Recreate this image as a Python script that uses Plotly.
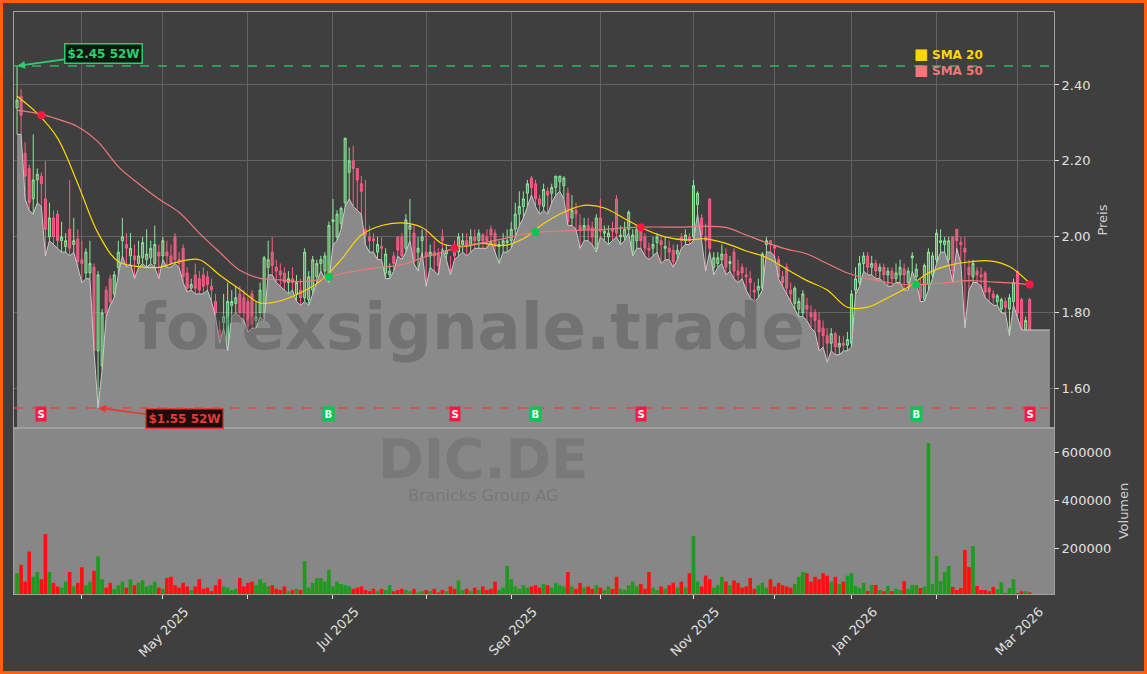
import pandas as pd
import plotly.graph_objects as go

# ---- data ----
holidays = ["2025-04-18", "2025-04-21", "2025-05-01", "2025-12-24",
            "2025-12-25", "2025-12-26", "2025-12-31", "2026-01-01"]
dates = [d for d in pd.bdate_range("2025-03-10", "2026-03-05")
         if d.strftime("%Y-%m-%d") not in holidays]

opens = [2.34, 2.37, 2.22, 2.18, 2.10, 2.15, 2.16, 2.10, 2.00, 2.05,
         2.06, 1.99, 1.975, 2.02, 1.98, 1.995, 1.94, 1.905, 1.905, 1.92,
         1.70, 1.66, 1.86, 1.89, 1.85, 1.92, 1.99, 1.98, 1.95, 1.95,
         1.93, 1.945, 1.94, 1.945, 1.93, 1.96, 1.95, 1.96, 1.95, 2.00,
         1.94, 1.97, 1.905, 1.865, 1.90, 1.89, 1.90, 1.895, 1.87, 1.83,
         1.755, 1.775, 1.70, 1.82, 1.825, 1.85, 1.84, 1.83, 1.85, 1.78,
         1.80, 1.79, 1.92, 1.96, 1.92, 1.91, 1.905, 1.88, 1.89, 1.85,
         1.86, 1.84, 1.835, 1.86, 1.895, 1.93, 1.91, 1.895, 2.04, 2.00,
         2.035, 2.09, 2.17, 2.20, 2.18, 2.14, 2.02, 2.00, 1.995, 1.96,
         1.975, 1.905, 1.90, 1.95, 2.00, 2.00, 1.97, 2.02, 2.01, 1.96,
         1.99, 1.96, 1.95, 1.96, 1.955, 2.00, 1.955, 1.915, 1.97, 1.96,
         1.98, 1.99, 1.98, 2.00, 1.99, 2.005, 2.00, 2.02, 2.01, 1.975,
         1.98, 1.985, 1.99, 2.02, 2.06, 2.08, 2.115, 2.155, 2.14, 2.10,
         2.08, 2.12, 2.115, 2.13, 2.145, 2.135, 2.115, 2.05, 2.07, 2.03,
         2.02, 2.03, 2.025, 1.97, 2.05, 2.01, 2.00, 2.02, 2.10, 2.00,
         2.00, 2.02, 1.96, 1.99, 2.02, 2.00, 1.97, 1.97, 1.985, 1.99,
         1.97, 1.97, 1.965, 1.955, 2.00, 1.99, 2.00, 2.00, 2.085, 2.05,
         2.00, 2.10, 1.92, 1.93, 1.94, 1.955, 1.93, 1.96, 1.91, 1.92,
         1.90, 1.89, 1.86, 1.86, 1.865, 1.98, 1.99, 1.975, 1.94, 1.895,
         1.92, 1.86, 1.825, 1.81, 1.80, 1.82, 1.80, 1.80, 1.78, 1.76,
         1.74, 1.72, 1.745, 1.71, 1.72, 1.715, 1.72, 1.86, 1.88, 1.93,
         1.95, 1.92, 1.93, 1.91, 1.92, 1.90, 1.91, 1.89, 1.90, 1.915,
         1.88, 1.945, 1.895, 1.875, 1.835, 1.875, 1.90, 1.94, 1.985, 1.98,
         1.94, 2.00, 2.02, 1.985, 1.97, 1.92, 1.895, 1.91, 1.90, 1.905,
         1.865, 1.85, 1.83, 1.81, 1.83, 1.81, 1.83, 1.91, 1.835, 1.755,
         1.835]

highs = [2.45, 2.39, 2.25, 2.19, 2.27, 2.18, 2.17, 2.20, 2.09, 2.07,
         2.07, 2.04, 2.01, 2.15, 2.05, 2.02, 1.99, 1.97, 1.99, 1.93,
         1.91, 1.81, 1.87, 1.90, 1.91, 1.99, 2.05, 2.01, 2.01, 1.98,
         1.99, 2.00, 2.02, 1.99, 2.03, 1.98, 2.00, 1.99, 1.98, 2.01,
         1.96, 1.98, 1.92, 1.89, 1.93, 1.91, 1.92, 1.91, 1.89, 1.85,
         1.78, 1.85, 1.88, 1.86, 1.87, 1.87, 1.86, 1.84, 1.86, 1.83,
         1.88, 1.95, 1.99, 2.00, 1.94, 1.93, 1.92, 1.91, 1.92, 1.90,
         1.89, 1.97, 1.91, 1.95, 1.94, 1.95, 1.96, 2.04, 2.10, 2.07,
         2.08, 2.26, 2.235, 2.24, 2.18, 2.16, 2.15, 2.03, 2.01, 2.00,
         2.00, 1.97, 1.93, 1.96, 2.00, 2.01, 2.06, 2.10, 2.03, 2.00,
         2.02, 2.02, 1.98, 1.99, 1.97, 2.02, 1.98, 1.95, 1.99, 2.01,
         2.01, 2.01, 2.02, 2.02, 2.02, 2.01, 2.02, 2.03, 2.02, 1.99,
         2.01, 2.02, 2.04, 2.09, 2.12, 2.12, 2.15, 2.16, 2.15, 2.11,
         2.14, 2.13, 2.14, 2.16, 2.16, 2.16, 2.13, 2.11, 2.09, 2.06,
         2.05, 2.05, 2.04, 2.06, 2.10, 2.03, 2.03, 2.04, 2.11, 2.03,
         2.04, 2.07, 2.02, 2.03, 2.03, 2.01, 1.985, 2.00, 2.01, 2.00,
         2.00, 1.99, 1.98, 1.98, 2.01, 2.02, 2.01, 2.15, 2.12, 2.06,
         2.035, 2.10, 1.96, 1.96, 1.98, 1.97, 1.95, 1.97, 1.94, 1.93,
         1.92, 1.91, 1.88, 1.89, 1.96, 2.00, 1.99, 1.98, 1.95, 1.91,
         1.93, 1.88, 1.87, 1.84, 1.86, 1.84, 1.82, 1.81, 1.80, 1.78,
         1.76, 1.76, 1.75, 1.74, 1.74, 1.75, 1.86, 1.92, 1.95, 1.96,
         1.96, 1.95, 1.94, 1.93, 1.93, 1.92, 1.92, 1.93, 1.94, 1.93,
         1.92, 1.96, 1.93, 1.89, 1.93, 1.97, 1.96, 2.02, 2.02, 2.00,
         2.00, 2.00, 2.02, 2.00, 2.00, 1.94, 1.94, 1.92, 1.92, 1.91,
         1.87, 1.86, 1.85, 1.84, 1.84, 1.85, 1.89, 1.91, 1.84, 1.79,
         1.84]

lows = [2.27, 2.27, 2.10, 2.07, 2.06, 2.09, 2.08, 1.95, 1.99, 1.98,
        1.97, 1.96, 1.96, 1.95, 1.96, 1.92, 1.88, 1.89, 1.89, 1.70,
        1.55, 1.65, 1.79, 1.82, 1.84, 1.90, 1.95, 1.92, 1.93, 1.89,
        1.92, 1.93, 1.92, 1.93, 1.92, 1.89, 1.94, 1.92, 1.92, 1.93,
        1.92, 1.88, 1.855, 1.86, 1.85, 1.85, 1.85, 1.86, 1.83, 1.79,
        1.72, 1.76, 1.70, 1.79, 1.80, 1.79, 1.78, 1.75, 1.76, 1.76,
        1.79, 1.78, 1.90, 1.90, 1.88, 1.87, 1.86, 1.85, 1.86, 1.83,
        1.82, 1.83, 1.82, 1.85, 1.88, 1.91, 1.89, 1.88, 1.98, 1.99,
        2.02, 2.08, 2.10, 2.08, 2.07, 2.06, 1.98, 1.96, 1.96, 1.94,
        1.94, 1.89, 1.89, 1.91, 1.95, 1.94, 1.96, 1.99, 1.93, 1.91,
        1.96, 1.87, 1.92, 1.91, 1.90, 1.97, 1.94, 1.90, 1.94, 1.95,
        1.96, 1.95, 1.96, 1.97, 1.97, 1.97, 1.97, 1.99, 1.96, 1.93,
        1.96, 1.96, 1.97, 2.00, 2.03, 2.05, 2.08, 2.11, 2.08, 2.06,
        2.07, 2.06, 2.09, 2.11, 2.12, 2.10, 2.03, 2.03, 2.02, 1.97,
        1.99, 1.99, 1.98, 1.96, 2.00, 1.99, 1.98, 1.99, 2.00, 1.98,
        1.99, 2.01, 1.95, 1.97, 1.97, 1.95, 1.94, 1.95, 1.96, 1.93,
        1.94, 1.94, 1.92, 1.94, 1.97, 1.98, 1.98, 1.99, 2.06, 1.99,
        1.91, 1.96, 1.90, 1.92, 1.93, 1.90, 1.91, 1.89, 1.88, 1.89,
        1.86, 1.84, 1.83, 1.84, 1.86, 1.96, 1.96, 1.95, 1.89, 1.87,
        1.85, 1.83, 1.81, 1.79, 1.79, 1.78, 1.76, 1.75, 1.70, 1.71,
        1.67, 1.70, 1.69, 1.69, 1.70, 1.70, 1.71, 1.85, 1.87, 1.91,
        1.90, 1.90, 1.89, 1.89, 1.88, 1.87, 1.87, 1.88, 1.88, 1.86,
        1.86, 1.91, 1.88, 1.83, 1.83, 1.86, 1.89, 1.93, 1.96, 1.96,
        1.93, 1.88, 1.97, 1.93, 1.76, 1.86, 1.88, 1.88, 1.87, 1.84,
        1.83, 1.82, 1.82, 1.80, 1.80, 1.74, 1.82, 1.79, 1.755, 1.755,
        1.755]

closes = [2.36, 2.32, 2.16, 2.09, 2.15, 2.165, 2.14, 2.02, 2.05, 2.00,
          1.99, 2.00, 1.99, 1.97, 1.99, 1.935, 1.93, 1.96, 1.93, 1.70,
          1.90, 1.80, 1.80, 1.83, 1.90, 1.96, 2.00, 1.97, 1.97, 1.94,
          1.95, 1.985, 1.955, 1.97, 1.98, 1.95, 1.99, 1.95, 1.93, 1.94,
          1.93, 1.895, 1.865, 1.875, 1.865, 1.86, 1.87, 1.875, 1.86, 1.80,
          1.735, 1.79, 1.83, 1.83, 1.84, 1.80, 1.80, 1.765, 1.77, 1.79,
          1.86, 1.945, 1.94, 1.925, 1.91, 1.90, 1.88, 1.89, 1.88, 1.88,
          1.84, 1.96, 1.895, 1.94, 1.93, 1.94, 1.95, 2.03, 2.045, 2.06,
          2.075, 2.26, 2.20, 2.18, 2.15, 2.12, 2.005, 1.99, 1.99, 1.98,
          1.97, 1.955, 1.91, 1.93, 1.965, 1.95, 2.045, 2.03, 1.935, 1.97,
          2.00, 1.95, 1.96, 1.95, 1.925, 1.99, 1.965, 1.91, 1.95, 2.00,
          1.99, 1.98, 2.00, 1.99, 2.01, 1.99, 1.99, 2.005, 1.975, 1.98,
          1.99, 1.99, 2.02, 2.06, 2.08, 2.10, 2.14, 2.13, 2.10, 2.085,
          2.125, 2.11, 2.13, 2.16, 2.16, 2.155, 2.04, 2.07, 2.06, 2.02,
          2.03, 2.02, 2.00, 2.05, 2.015, 2.015, 2.01, 2.015, 2.01, 2.005,
          2.02, 2.065, 2.005, 2.02, 1.99, 1.97, 1.965, 1.98, 2.00, 1.98,
          1.975, 1.96, 1.935, 1.965, 1.99, 2.005, 1.99, 2.135, 2.115, 2.005,
          1.99, 1.97, 1.945, 1.945, 1.955, 1.92, 1.935, 1.91, 1.90, 1.905,
          1.895, 1.88, 1.855, 1.87, 1.955, 1.99, 1.98, 1.97, 1.895, 1.88,
          1.865, 1.85, 1.865, 1.83, 1.85, 1.81, 1.79, 1.78, 1.75, 1.74,
          1.72, 1.745, 1.71, 1.72, 1.715, 1.73, 1.85, 1.89, 1.93, 1.95,
          1.92, 1.93, 1.91, 1.92, 1.90, 1.91, 1.89, 1.905, 1.92, 1.90,
          1.91, 1.95, 1.915, 1.84, 1.925, 1.96, 1.95, 2.01, 1.99, 1.99,
          1.99, 1.91, 1.99, 1.98, 1.96, 1.90, 1.93, 1.90, 1.895, 1.855,
          1.855, 1.84, 1.845, 1.835, 1.815, 1.84, 1.88, 1.80, 1.755, 1.78,
          1.755]

volumes = [95, 130, 60, 185, 80, 100, 70, 258, 100, 55,
           40, 35, 60, 100, 40, 55, 120, 45, 60, 105,
           165, 70, 35, 55, 30, 45, 60, 35, 70, 45,
           55, 65, 40, 45, 60, 35, 30, 75, 80, 45,
           35, 55, 40, 25, 40, 70, 30, 35, 20, 45,
           70, 40, 35, 25, 30, 75, 40, 55, 60, 45,
           70, 55, 40, 45, 30, 25, 40, 20, 25, 30,
           25, 145, 35, 55, 75, 75, 60, 110, 40, 60,
           50, 45, 40, 30, 35, 40, 25, 20, 30, 20,
           30, 25, 45, 20, 25, 30, 25, 20, 30, 15,
           20, 25, 20, 30, 15, 25, 20, 40, 30, 65,
           25, 30, 20, 35, 25, 40, 25, 30, 60, 25,
           35, 125, 70, 40, 30, 45, 35, 40, 45, 35,
           50, 45, 35, 55, 45, 40, 100, 40, 30, 55,
           35, 40, 30, 45, 35, 25, 40, 30, 80, 30,
           25, 45, 60, 40, 50, 30, 100, 35, 25, 40,
           30, 45, 55, 35, 60, 35, 95, 250, 60, 40,
           85, 70, 35, 45, 80, 60, 45, 65, 55, 35,
           40, 75, 30, 45, 55, 35, 70, 40, 55, 45,
           40, 35, 50, 80, 100, 95, 60, 80, 70, 95,
           85, 60, 80, 50, 60, 85, 95, 42, 33, 54,
           21, 46, 46, 25, 20, 42, 20, 30, 25, 62,
           30, 46, 46, 33, 38, 637, 50, 167, 62, 100,
           125, 38, 25, 33, 192, 121, 208, 42, 25, 25,
           20, 38, 28, 58, 12, 33, 70, 12, 20, 20,
           15]
volumes = [v * 1000 for v in volumes]

# moving averages, read every 5 trading days
sma_idx = list(range(0, 251, 5))
sma20 = [2.37, 2.325, 2.26, 2.14, 2.01, 1.935, 1.922, 1.92, 1.935, 1.94,
         1.90, 1.862, 1.826, 1.832, 1.853, 1.885, 1.94, 2.005, 2.03, 2.037,
         2.025, 1.982, 1.975, 1.983, 1.977, 1.995, 2.035, 2.065, 2.083, 2.076,
         2.048, 2.02, 2.00, 1.992, 1.995, 1.983, 1.963, 1.946, 1.915, 1.885,
         1.86, 1.815, 1.815, 1.84, 1.868, 1.905, 1.925, 1.934, 1.937, 1.922,
         1.878]
sma50 = [2.333, 2.325, 2.31, 2.29, 2.25, 2.185, 2.14, 2.10, 2.065, 2.01,
         1.96, 1.912, 1.891, 1.887, 1.882, 1.888, 1.903, 1.913, 1.92, 1.927,
         1.945, 1.96, 1.975, 1.985, 1.995, 2.007, 2.013, 2.016, 2.018, 2.02,
         2.024, 2.026, 2.026, 2.026, 2.028, 2.025, 2.005, 1.985, 1.968, 1.955,
         1.93, 1.905, 1.89, 1.88, 1.874, 1.876, 1.88, 1.885, 1.882, 1.879,
         1.874]

# crossover signals
signal_idx = [6, 77, 108, 128, 154, 222, 250]
signal_type = ["S", "B", "S", "B", "S", "B", "S"]
signal_price = [2.32, 1.895, 1.97, 2.013, 2.025, 1.875, 1.875]

ticker = "DIC.DE"
company = "Branicks Group AG"

# ---- figure ----
idx = list(range(len(dates)))
n = len(dates)
hi52 = max(highs)
lo52 = min(lows)
i_hi = highs.index(hi52)
i_lo = lows.index(lo52)

tickvals = [i for i in idx[1:] if dates[i].month != dates[i - 1].month]
ticktext = [dates[i].strftime("%b %Y") if dates[i].month % 2 == 1 else "" for i in tickvals]

GREEN_C = "#8ee89a"
RED_C = "#ff5c86"

fig = go.Figure()

# area under the lows
fig.add_trace(go.Scatter(
    x=idx + [n + 4], y=lows + [lows[-1]], mode="lines", fill="tozeroy",
    line=dict(color="#c9c9c9", width=1), fillcolor="#8a8a8a",
    hoverinfo="skip", showlegend=False, xaxis="x", yaxis="y"))

fig.add_trace(go.Candlestick(
    x=idx, open=opens, high=highs, low=lows, close=closes,
    increasing=dict(line=dict(color=GREEN_C, width=1), fillcolor="rgba(130,200,135,0.55)"),
    decreasing=dict(line=dict(color=RED_C, width=1), fillcolor="rgba(235,110,140,0.75)"),
    whiskerwidth=0, showlegend=False, xaxis="x", yaxis="y"))

fig.add_trace(go.Scatter(x=sma_idx, y=sma20, mode="lines", line=dict(color="#FFD700", width=1.2, shape="spline"),
                         showlegend=False, xaxis="x", yaxis="y"))
fig.add_trace(go.Scatter(x=sma_idx, y=sma50, mode="lines", line=dict(color="#F07878", width=1.2, shape="spline"),
                         showlegend=False, xaxis="x", yaxis="y"))

sig_colors = ["#00c853" if s == "B" else "#ff1744" for s in signal_type]
fig.add_trace(go.Scatter(x=signal_idx, y=signal_price, mode="markers",
                         marker=dict(color=sig_colors, size=8), showlegend=False,
                         xaxis="x", yaxis="y"))

vol_colors = ["#1f9a1f" if c >= o else "#ff1010" for o, c in zip(opens, closes)]
fig.add_trace(go.Bar(x=idx, y=volumes, marker=dict(color=vol_colors, line=dict(width=0)),
                     showlegend=False, xaxis="x2", yaxis="y2"))

# 52 week lines
fig.add_shape(type="line", xref="x domain", yref="y", x0=0, x1=1, y0=hi52, y1=hi52,
              line=dict(color="#2fb864", width=1.5, dash="dash"))
fig.add_shape(type="line", xref="x domain", yref="y", x0=0, x1=1, y0=lo52, y1=lo52,
              line=dict(color="#e04848", width=1.5, dash="dash"))

# volume panel background
fig.add_shape(type="rect", xref="x2 domain", yref="y2 domain", x0=0, x1=1, y0=0, y1=1,
              fillcolor="#878787", line=dict(width=0), layer="below")

# outer orange frame
fig.add_shape(type="rect", xref="paper", yref="paper",
              x0=(1.5 - 14) / 1040, x1=(1145.5 - 14) / 1040,
              y0=(594 - 672.5) / 582, y1=(594 - 1.5) / 582,
              line=dict(color="#ff6010", width=3))

fig.add_annotation(x=i_hi, y=hi52, xref="x", yref="y", text=f"<b>${hi52:.2f} 52W</b>",
                   showarrow=True, ax=86, ay=-12, arrowhead=2, arrowsize=1, arrowwidth=1.6,
                   arrowcolor="#2ecc71", font=dict(color="#2ecc71", size=12),
                   bgcolor="#0c1a10", bordercolor="#2ecc71", borderwidth=1.5, borderpad=2)
fig.add_annotation(x=i_lo, y=lo52, xref="x", yref="y", text=f"<b>${lo52:.2f} 52W</b>",
                   showarrow=True, ax=86, ay=11, arrowhead=2, arrowsize=1, arrowwidth=1.6,
                   arrowcolor="#e53935", font=dict(color="#e53935", size=12),
                   bgcolor="#1e0d0d", bordercolor="#e53935", borderwidth=1.5, borderpad=2)

for i, s, col in zip(signal_idx, signal_type, sig_colors):
    fig.add_annotation(x=i, y=1.534, xref="x", yref="y", text=f"<b>{s}</b>", showarrow=False,
                       font=dict(color="white", size=10), bgcolor=col, borderpad=1.5)

# watermarks
fig.add_annotation(x=0.44, y=0.459, xref="paper", yref="paper", xanchor="center", yanchor="middle",
                   text="<b>forexsignale.trade</b>", showarrow=False,
                   font=dict(size=64, color="rgba(70,70,70,0.35)"))
fig.add_annotation(x=0.451, y=0.232, xref="paper", yref="paper", xanchor="center", yanchor="middle",
                   text=f"<b>{ticker}</b>", showarrow=False,
                   font=dict(size=55, color="rgba(90,90,90,0.3)"))
fig.add_annotation(x=0.451, y=0.170, xref="paper", yref="paper", xanchor="center", yanchor="middle",
                   text=company, showarrow=False,
                   font=dict(size=16, color="rgba(90,90,90,0.35)"))

# legend
for k, (name, col) in enumerate([("SMA 20", "#FFD700"), ("SMA 50", "#F07878")]):
    fig.add_annotation(x=0.8635, y=0.9278 - k * 0.0275, xref="paper", yref="paper",
                       xanchor="left", yanchor="middle",
                       text=f"<span style='font-size:15px'>■</span> <b>{name}</b>",
                       showarrow=False, font=dict(size=12, color=col))

axis_font = dict(color="#e0e0e0", size=13)
xr = [-0.75, 256]
fig.update_layout(
    width=1147, height=674,
    margin=dict(l=14, r=93, t=12, b=80, autoexpand=False),
    paper_bgcolor="#3f3f3f", plot_bgcolor="#3f3f3f",
    font=dict(family="DejaVu Sans", color="#e0e0e0"),
    showlegend=False, bargap=0.1,
    xaxis=dict(domain=[0, 1], anchor="y", range=xr, tickvals=tickvals, showticklabels=False,
               ticks="", showgrid=True, gridcolor="#626262", zeroline=False,
               showline=True, mirror=True, linecolor="#a0a0a0", rangeslider=dict(visible=False)),
    yaxis=dict(domain=[0.2852, 1], anchor="x", side="right", range=[1.497, 2.592],
               tickvals=[1.6, 1.8, 2.0, 2.2, 2.4], tickformat=".2f", ticks="outside",
               ticklen=4, tickcolor="#e0e0e0", tickfont=axis_font, showgrid=True,
               gridcolor="#626262", zeroline=False, showline=True, mirror=True,
               linecolor="#a0a0a0", title=dict(text="Preis", font=dict(color="#cfcfcf", size=13), standoff=8)),
    xaxis2=dict(domain=[0, 1], anchor="y2", range=xr, tickvals=tickvals, ticktext=ticktext,
                tickangle=-45, ticklabelshift=22, ticks="outside", ticklen=4, tickcolor="#e0e0e0",
                tickfont=axis_font, showgrid=False, zeroline=False, showline=True, mirror=True,
                linecolor="#a0a0a0"),
    yaxis2=dict(domain=[0, 0.2852], anchor="x2", side="right", range=[8333, 700000],
                tickvals=[200000, 400000, 600000], tickformat="d", ticks="outside", ticklen=4,
                tickcolor="#e0e0e0", tickfont=axis_font, showgrid=False, zeroline=False,
                showline=True, mirror=True, linecolor="#a0a0a0",
                title=dict(text="Volumen", font=dict(color="#cfcfcf", size=13), standoff=8)),
)

# the page body has a default 8px margin; remove it so the figure fills the window
fig.write_html("out.html", config={"displayModeBar": False},
               post_script="document.body.style.margin='0';")
